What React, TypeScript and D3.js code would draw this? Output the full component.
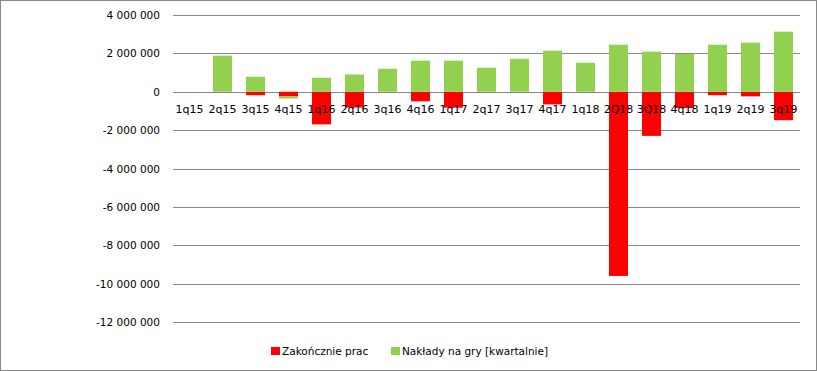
import { useEffect, useRef } from "react";
import * as d3 from "d3";

const quarters = [
  "1q15", "2q15", "3q15", "4q15", "1q16", "2q16", "3q16", "4q16", "1q17", "2q17",
  "3q17", "4q17", "1q18", "2Q18", "3Q18", "4q18", "1q19", "2q19", "3q19",
];
// Zakończnie prac (red)
const completion = [
  0, 0, -180000, -240000, -1700000, -820000, 0, -500000, -830000, 0,
  0, -660000, 0, -9600000, -2300000, -850000, -180000, -240000, -1480000,
];
// Nakłady na gry [kwartalnie] (green)
const spending = [
  0, 1880000, 780000, -110000, 730000, 900000, 1200000, 1620000, 1620000, 1250000,
  1720000, 2140000, 1510000, 2450000, 2090000, 1970000, 2450000, 2560000, 3130000,
];
const yTicks = [4e6, 2e6, 0, -2e6, -4e6, -6e6, -8e6, -10e6, -12e6];

const seriesKeys = ["completion", "spending"];
const seriesNames = ["Zakończnie prac", "Nakłady na gry [kwartalnie]"];
const seriesColors = ["#ff0000", "#92d050"];

const W = 817;
const H = 371;

const fmt = (v: number) =>
  (v < 0 ? "-" : "") + d3.format(",")(Math.abs(v)).replace(/,/g, " ");

export default function App() {
  const svgRef = useRef<SVGSVGElement>(null);

  useEffect(() => {
    if (!svgRef.current) return;
    const svg = d3.select(svgRef.current);
    svg.selectAll("*").remove();

    const font = "'DejaVu Sans', Verdana, sans-serif";

    svg.append("rect")
      .attr("x", 0.5).attr("y", 0.5)
      .attr("width", W - 1).attr("height", H - 1)
      .attr("fill", "#fff").attr("stroke", "#888");

    const x = d3.scaleBand<string>()
      .domain(quarters)
      .range([173, 800])
      .paddingInner(0.424)
      .paddingOuter(0.212);

    const y = d3.scaleLinear().domain([-12e6, 4e6]).range([322, 15]);

    // gridlines + tick labels
    const grid = svg.append("g");
    yTicks.forEach((t) => {
      const yy = Math.round(y(t)) + 0.5;
      grid.append("line")
        .attr("x1", 173).attr("x2", 800)
        .attr("y1", yy).attr("y2", yy)
        .attr("stroke", "#878787").attr("stroke-width", 1);
      grid.append("text")
        .attr("x", 160).attr("y", yy)
        .attr("dy", "0.35em")
        .attr("text-anchor", "end")
        .attr("font-family", font)
        .attr("font-size", "10.5px")
        .attr("fill", "#000")
        .text(fmt(t));
    });

    const rows = quarters.map((q, i) => ({
      q,
      completion: completion[i],
      spending: spending[i],
    }));

    const stacked = d3.stack<any>()
      .keys(seriesKeys)
      .offset(d3.stackOffsetDiverging)(rows);

    stacked.forEach((layer, si) => {
      svg.append("g")
        .selectAll("rect")
        .data(layer)
        .enter()
        .append("rect")
        .attr("x", (d) => x(d.data.q)!)
        .attr("width", x.bandwidth())
        .attr("y", (d) => y(Math.max(d[0], d[1])))
        .attr("height", (d) => Math.abs(y(d[0]) - y(d[1])))
        .attr("fill", seriesColors[si]);
    });

    // category labels drawn over bars
    svg.append("g")
      .selectAll("text")
      .data(quarters)
      .enter()
      .append("text")
      .attr("x", (d) => x(d)! + x.bandwidth() / 2)
      .attr("y", 109)
      .attr("dy", "0.35em")
      .attr("text-anchor", "middle")
      .attr("font-family", font)
      .attr("font-size", "11px")
      .attr("fill", "#000")
      .text((d) => d);

    // legend
    const legendX = [271, 391];
    seriesNames.forEach((name, i) => {
      const g = svg.append("g").attr("transform", `translate(${legendX[i]},347)`);
      g.append("rect")
        .attr("width", 9).attr("height", 8)
        .attr("fill", seriesColors[i]);
      g.append("text")
        .attr("x", 11).attr("y", 4)
        .attr("dy", "0.35em")
        .attr("font-family", font)
        .attr("font-size", "10.5px")
        .attr("fill", "#000")
        .text(name);
    });
  }, []);

  return (
    <svg
      ref={svgRef}
      width={W}
      height={H}
      style={{ position: "absolute", left: 0, top: 0 }}
      role="img"
      aria-label="Zakończnie prac i nakłady na gry kwartalnie"
    />
  );
}
